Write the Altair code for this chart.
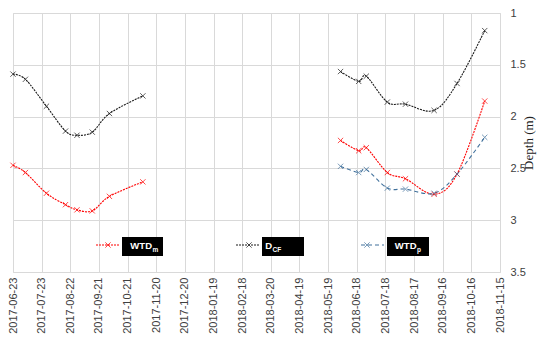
import altair as alt
import pandas as pd

# ---- data ----
dates1 = ["2017-06-23", "2017-07-06", "2017-07-28", "2017-08-17",
          "2017-08-29", "2017-09-14", "2017-10-02", "2017-11-06"]
dcf1 = [1.59, 1.64, 1.90, 2.14, 2.18, 2.15, 1.97, 1.80]
wtdm1 = [2.47, 2.54, 2.74, 2.85, 2.90, 2.91, 2.77, 2.63]

dates2 = ["2018-06-01", "2018-06-20", "2018-06-28", "2018-07-20",
          "2018-08-08", "2018-09-07", "2018-10-01", "2018-10-30"]
dcf2 = [1.565, 1.66, 1.61, 1.86, 1.88, 1.94, 1.68, 1.17]
wtdm2 = [2.23, 2.33, 2.30, 2.54, 2.60, 2.75, 2.555, 1.85]
wtdp2 = [2.48, 2.54, 2.51, 2.69, 2.70, 2.74, 2.555, 2.20]

x_ticks = ["2017-06-23", "2017-07-23", "2017-08-22", "2017-09-21", "2017-10-21",
           "2017-11-20", "2017-12-20", "2018-01-19", "2018-02-18", "2018-03-20",
           "2018-04-19", "2018-05-19", "2018-06-18", "2018-07-18", "2018-08-17",
           "2018-09-16", "2018-10-16", "2018-11-15"]
y_ticks = [1, 1.5, 2, 2.5, 3, 3.5]

series_names = ["WTDm", "DCF", "WTDp"]
series_colors = ["#FF0000", "#1A1A1A", "#41719C"]
series_dash = [[2, 1], [2, 1], [4, 3]]

# ---- build table ----
rows = []
for seg, (dts, vals, name) in enumerate([
        (dates1, dcf1, "DCF"), (dates1, wtdm1, "WTDm"),
        (dates2, dcf2, "DCF"), (dates2, wtdm2, "WTDm"), (dates2, wtdp2, "WTDp")]):
    for d, v in zip(dts, vals):
        rows.append({"date": d, "depth": v, "series": name, "segment": seg})
df = pd.DataFrame(rows)


def ms(s):
    return int(pd.Timestamp(s, tz="UTC").value // 10**6)


tick_ms = [ms(t) for t in x_ticks]

GRID = "#D9D9D9"
LABEL = "#404040"
FONT = "Liberation Sans"

x_enc = alt.X("date:T", scale=alt.Scale(type="utc", domain=[tick_ms[0], tick_ms[-1]]),
              axis=alt.Axis(values=tick_ms,
                            labelExpr="utcFormat(datum.value, '%Y-%m-%d')",
                            labelAngle=270, title=None, grid=True, gridColor=GRID,
                            domain=False, ticks=False, tickSize=0, labelPadding=5,
                            labelFont=FONT, labelFontSize=11, labelColor=LABEL,
                            labelOverlap=False))
y_enc = alt.Y("depth:Q", scale=alt.Scale(domain=[1, 3.5], reverse=True, nice=False, zero=False),
              axis=alt.Axis(orient="right", values=y_ticks, format="~g", title="Depth (m)",
                            grid=True, gridColor=GRID, domain=False, ticks=False,
                            tickSize=0, labelPadding=10, labelFont=FONT,
                            labelFontSize=11, labelColor=LABEL,
                            titleFont="Liberation Serif", titleFontSize=13,
                            titleFontWeight="normal", titleColor="#222222",
                            titleAngle=270, titlePadding=10))

color_enc = alt.Color("series:N", scale=alt.Scale(domain=series_names, range=series_colors),
                      legend=None)
dash_enc = alt.StrokeDash("series:N", scale=alt.Scale(domain=series_names, range=series_dash),
                          legend=None)

XPATH = "M-1,-1L1,1M-1,1L1,-1"

lines = alt.Chart(df).mark_line(interpolate="cardinal", strokeWidth=1.1).encode(
    x=x_enc, y=y_enc, color=color_enc, strokeDash=dash_enc, detail="segment:N")
points = alt.Chart(df).mark_point(shape=XPATH, size=28, filled=False, strokeWidth=1).encode(
    x=x_enc, y=y_enc, color=color_enc)

# ---- custom legend (pixel layout inside the plot area) ----
one = pd.DataFrame({"k": [0]})
legend_items = [
    # name, main, sub, line x0, x1, marker x, box x0, x1, text joint x
    ("WTDm", "WTD", "m", 83, 107, 95, 109, 150, 139),
    ("DCF", "D", "CF", 223, 247, 236, 249, 291, 259),
    ("WTDp", "WTD", "p", 348, 371, 354, 374, 416, 403.5),
]
LY = 232
legend_layers = []
for name, main, sub, lx0, lx1, mx, bx0, bx1, jx in legend_items:
    i = series_names.index(name)
    col = series_colors[i]
    legend_layers.append(alt.Chart(one).mark_rule(
        color=col, strokeWidth=1.1, strokeDash=series_dash[i]).encode(
        x=alt.value(lx0), x2=alt.value(lx1), y=alt.value(LY)))
    legend_layers.append(alt.Chart(one).mark_point(
        shape=XPATH, size=28, filled=False, strokeWidth=1, color=col).encode(
        x=alt.value(mx), y=alt.value(LY)))
    legend_layers.append(alt.Chart(one).mark_rect(color="#000000").encode(
        x=alt.value(bx0), x2=alt.value(bx1), y=alt.value(LY - 8), y2=alt.value(LY + 11)))
    legend_layers.append(alt.Chart(one).mark_text(
        text=main, color="white", font=FONT, fontWeight="bold", fontSize=9.5,
        align="right", baseline="alphabetic").encode(
        x=alt.value(jx), y=alt.value(LY + 4)))
    legend_layers.append(alt.Chart(one).mark_text(
        text=sub, color="white", font=FONT, fontWeight="bold", fontSize=6.5,
        align="left", baseline="alphabetic").encode(
        x=alt.value(jx + 0.5), y=alt.value(LY + 6.5)))

chart = alt.layer(lines, points, *legend_layers).properties(
    width=487, height=259,
    autosize=alt.AutoSizeParams(type="none"),
    padding={"left": 5, "top": 5, "right": 42, "bottom": 66},
).configure_view(stroke=None).configure(background="white")

chart.save("out.html", embed_options={"renderer": "svg", "actions": False})
